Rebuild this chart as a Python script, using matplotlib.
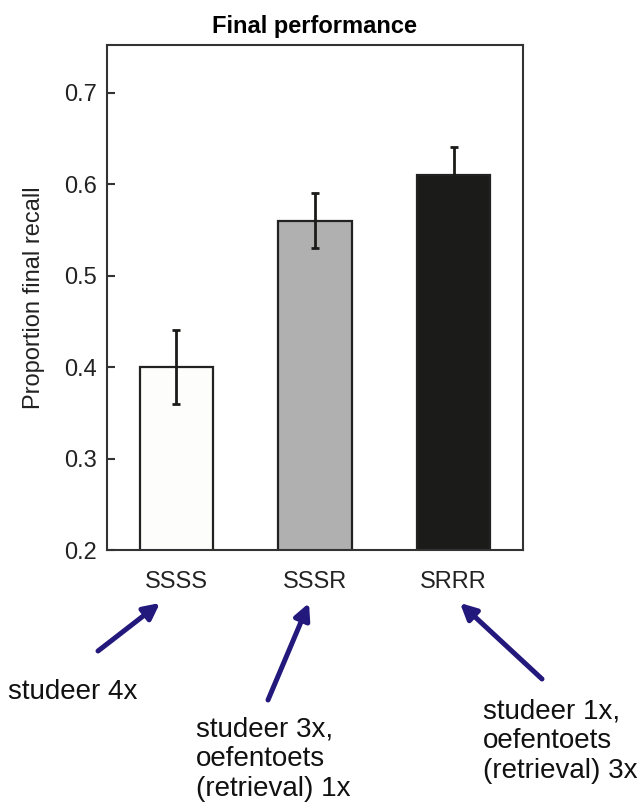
import numpy as np
import matplotlib
matplotlib.use("Agg")
import matplotlib.pyplot as plt

# data
conditions = ["SSSS", "SSSR", "SRRR"]
recall = [0.40, 0.56, 0.61]
recall_err = [0.04, 0.03, 0.03]
bar_colors = ["#fdfdfb", "#b0b0b0", "#1b1b19"]
yticks = [0.2, 0.3, 0.4, 0.5, 0.6, 0.7]

notes = [
    ["studeer 4x"],
    ["studeer 3x,", "oefentoets", "(retrieval) 1x"],
    ["studeer 1x,", "oefentoets", "(retrieval) 3x"],
]

plt.rcParams["font.family"] = ["Liberation Sans", "DejaVu Sans"]

W, H = 644, 808
fig = plt.figure(figsize=(W / 100, H / 100), dpi=100)


def fx(px):
    return px / W


def fy(py):
    return 1 - py / H


ax = fig.add_axes([fx(107), fy(550), fx(523) - fx(107), fy(45) - fy(550)])

x = np.arange(len(conditions))
ax.bar(x, recall, width=0.53, bottom=0, color=bar_colors,
       edgecolor="#222222", linewidth=1.6, zorder=2)
ax.errorbar(x, recall, yerr=recall_err, fmt="none", ecolor="#1b1b19",
            elinewidth=2, capsize=3.2, capthick=2, zorder=3)

ax.set_xlim(-0.5, 2.5)
ax.set_ylim(0.2, 0.752)
ax.set_yticks(yticks)
ax.set_yticklabels([f"{v:.1f}" for v in yticks])
ax.set_xticks(x)
ax.set_xticklabels(conditions)

ax.tick_params(axis="y", direction="in", length=6, width=1.5, pad=7,
               labelsize=17, labelcolor="#222222", color="#333333")
ax.tick_params(axis="x", length=0, pad=15, labelsize=17,
               labelcolor="#222222")
for s in ax.spines.values():
    s.set_linewidth(1.5)
    s.set_color("#333333")

ax.set_ylabel("Proportion final recall", fontsize=17, labelpad=14,
              color="#222222")
ax.set_title("Final performance", fontsize=17, fontweight="bold", pad=9)

# annotation texts and arrows (figure pixels, from top-left)
note_pos = [(8, 699), (196, 736), (483, 718)]
line_step = 30
arrow_tails = [(98, 651), (268, 700), (542, 679)]
arrow_heads = [(160, 603), (309, 603), (460, 603)]
arrow_color = "#23187c"

for lines, (tx, ty) in zip(notes, note_pos):
    for i, line in enumerate(lines):
        fig.text(fx(tx), fy(ty + i * line_step), line, fontsize=20,
                 ha="left", va="baseline", color="#111111")

for (x0, y0), (x1, y1) in zip(arrow_tails, arrow_heads):
    ax.annotate("", xy=(fx(x1), fy(y1)), xytext=(fx(x0), fy(y0)),
                xycoords="figure fraction", textcoords="figure fraction",
                arrowprops=dict(arrowstyle="-|>", color=arrow_color, lw=3.6,
                                mutation_scale=24, shrinkA=0, shrinkB=0),
                annotation_clip=False)

fig.savefig("out.png", dpi=100)
